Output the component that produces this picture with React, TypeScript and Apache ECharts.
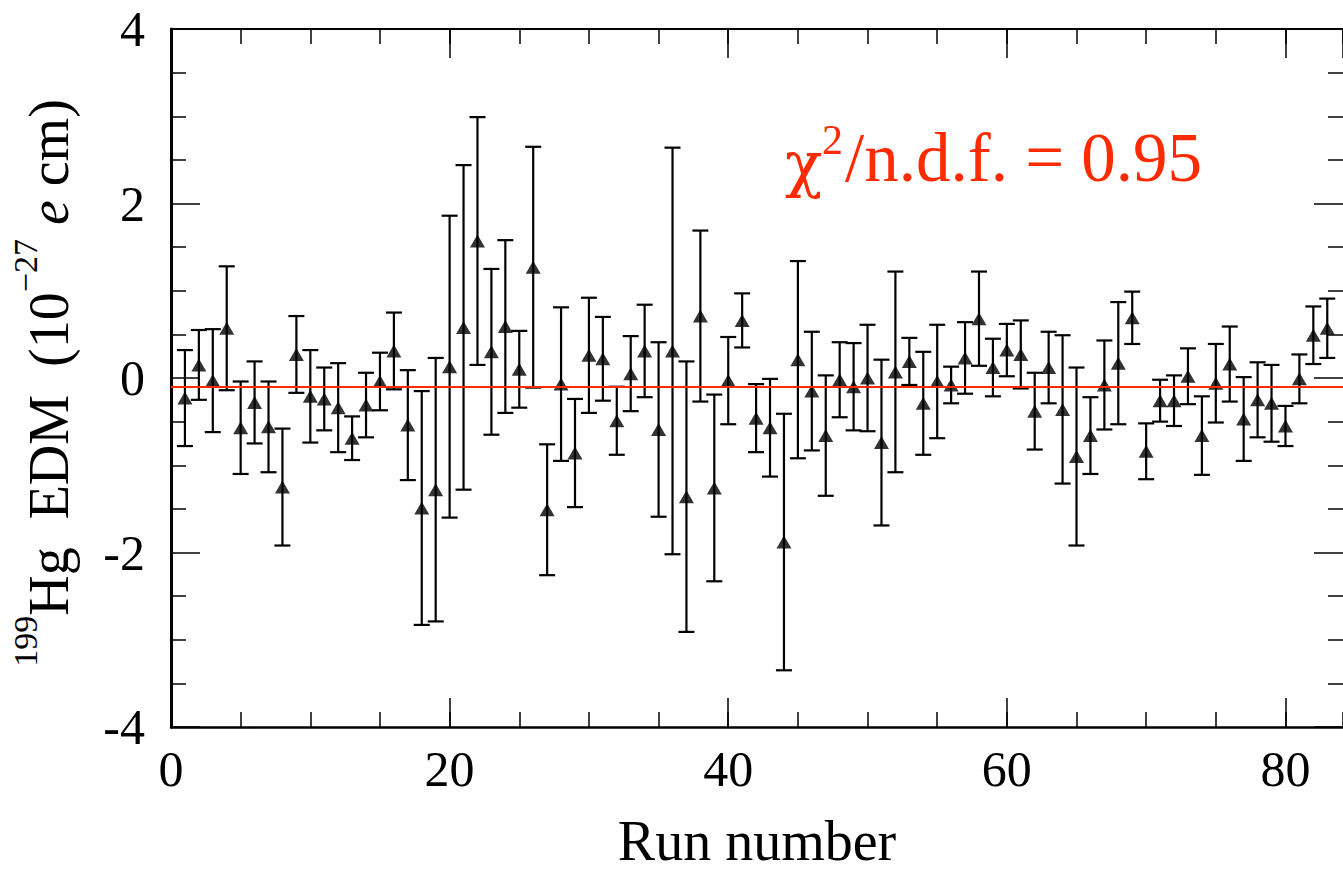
import React, { useEffect, useRef } from "react";
import * as echarts from "echarts";

// Run numbers
const runs: number[] = [
  1, 2, 3, 4, 5, 6, 7, 8, 9, 10, 11, 12, 13, 14, 15, 16, 17, 18, 19, 20,
  21, 22, 23, 24, 25, 26, 27, 28, 29, 30, 31, 32, 33, 34, 35, 36, 37, 38, 39, 40,
  41, 42, 43, 44, 45, 46, 47, 48, 49, 50, 51, 52, 53, 54, 55, 56, 57, 58, 59, 60,
  61, 62, 63, 64, 65, 66, 67, 68, 69, 70, 71, 72, 73, 74, 75, 76, 77, 78, 79, 80,
  81, 82, 83,
];

// 199Hg EDM per run (10^-27 e cm)
const edm: number[] = [
  -0.23, 0.15, -0.03, 0.57, -0.57, -0.28, -0.56, -1.25, 0.27, -0.21,
  -0.24, -0.34, -0.69, -0.31, -0.04, 0.31, -0.54, -1.49, -1.28, 0.13,
  0.58, 1.57, 0.3, 0.59, 0.1, 1.27, -1.51, -0.07, -0.86, 0.26,
  0.22, -0.49, 0.05, 0.31, -0.59, 0.31, -1.36, 0.71, -1.26, -0.03,
  0.66, -0.46, -0.57, -1.88, 0.21, -0.15, -0.66, -0.02, -0.1, 0.0,
  -0.74, 0.07, 0.19, -0.29, -0.04, -0.08, 0.23, 0.68, 0.12, 0.32,
  0.27, -0.38, 0.12, -0.36, -0.9, -0.66, -0.08, 0.17, 0.69, -0.84,
  -0.26, -0.26, 0.02, -0.66, -0.06, 0.16, -0.47, -0.25, -0.29, -0.55,
  -0.01, 0.49, 0.57,
];

// 1-sigma errors
const err: number[] = [
  0.55, 0.4, 0.59, 0.71, 0.53, 0.47, 0.52, 0.67, 0.44, 0.53,
  0.36, 0.51, 0.25, 0.37, 0.33, 0.44, 0.63, 1.34, 1.51, 1.73,
  1.86, 1.42, 0.95, 0.99, 0.44, 1.38, 0.75, 0.88, 0.62, 0.66,
  0.48, 0.39, 0.43, 0.53, 1.0, 2.33, 1.55, 0.98, 1.07, 0.5,
  0.31, 0.39, 0.56, 1.47, 1.13, 0.68, 0.69, 0.43, 0.5, 0.61,
  0.95, 1.15, 0.27, 0.59, 0.65, 0.21, 0.41, 0.54, 0.33, 0.3,
  0.39, 0.44, 0.41, 0.85, 1.02, 0.44, 0.51, 0.7, 0.3, 0.32,
  0.24, 0.29, 0.32, 0.45, 0.45, 0.43, 0.48, 0.43, 0.44, 0.23,
  0.28, 0.33, 0.34,
];

const fitMean = -0.1;
const chiText = "0.95";

const xMax = 84.13;
const xTickMajor = 20;
const xTickMinor = 5;
const yTickMajor = 2;

const FONT = "Liberation Serif";
const GREEK = "DejaVu Serif";
const RED = "#ff2a00";

export default function App() {
  const ref = useRef<HTMLDivElement>(null);

  useEffect(() => {
    if (!ref.current) return;
    const chart = echarts.init(ref.current, null, { renderer: "svg" });

    const errData = runs.map((r, i) => [r, edm[i] - err[i], edm[i] + err[i]]);
    const ptData = runs.map((r, i) => [r, edm[i]]);

    const baseX = {
      type: "value",
      min: 0,
      max: xMax,
      splitLine: { show: false },
    };
    const tickStyle = { color: "#000", width: 1.5 };

    const option: any = {
      animation: false,
      backgroundColor: "#fff",
      textStyle: { fontFamily: FONT },
      grid: { left: 171, top: 29, right: 0, bottom: 136, containLabel: false },
      xAxis: [
        {
          ...baseX,
          position: "bottom",
          interval: xTickMajor,
          axisLine: { show: true, onZero: false, lineStyle: { color: "#000", width: 2.5 } },
          axisTick: { show: true, inside: true, length: 29, lineStyle: tickStyle },
          axisLabel: {
            show: true,
            showMaxLabel: false,
            fontSize: 50,
            fontFamily: FONT,
            color: "#000",
            margin: 17,
          },
          name: "Run number",
          nameLocation: "middle",
          nameGap: 86,
          nameTextStyle: { fontSize: 56, fontFamily: FONT, color: "#000" },
        },
        {
          ...baseX,
          position: "bottom",
          interval: xTickMinor,
          axisLine: { show: false, onZero: false },
          axisTick: { show: true, inside: true, length: 15, lineStyle: tickStyle },
          axisLabel: { show: false },
        },
        {
          ...baseX,
          position: "top",
          interval: xTickMajor,
          axisLine: { show: true, onZero: false, lineStyle: { color: "#000", width: 2 } },
          axisTick: { show: true, inside: true, length: 29, lineStyle: tickStyle },
          axisLabel: { show: false },
        },
        {
          ...baseX,
          position: "top",
          interval: xTickMinor,
          axisLine: { show: false, onZero: false },
          axisTick: { show: true, inside: true, length: 15, lineStyle: tickStyle },
          axisLabel: { show: false },
        },
      ],
      yAxis: [
        {
          type: "value",
          position: "left",
          min: -4,
          max: 4,
          interval: yTickMajor,
          splitLine: { show: false },
          axisLine: { show: true, onZero: false, lineStyle: { color: "#000", width: 3 } },
          axisTick: { show: true, inside: true, length: 29, lineStyle: tickStyle },
          minorTick: { show: true, splitNumber: 4, length: 15, lineStyle: tickStyle },
          minorSplitLine: { show: false },
          axisLabel: {
            fontSize: 50,
            fontFamily: FONT,
            color: "#000",
            margin: 26,
            formatter: (v: number) => String(v),
          },
        },
        {
          type: "value",
          position: "right",
          min: -4,
          max: 4,
          interval: yTickMajor,
          splitLine: { show: false },
          axisLine: { show: false, onZero: false },
          axisTick: { show: true, inside: true, length: 29, lineStyle: tickStyle },
          minorTick: { show: true, splitNumber: 4, length: 15, lineStyle: tickStyle },
          minorSplitLine: { show: false },
          axisLabel: { show: false },
        },
      ],
      series: [
        {
          type: "custom",
          name: "errors",
          xAxisIndex: 0,
          yAxisIndex: 0,
          data: errData,
          encode: { x: 0, y: [1, 2] },
          z: 2,
          renderItem: (params: any, api: any) => {
            const x = api.value(0);
            const lo = api.coord([x, api.value(1)]);
            const hi = api.coord([x, api.value(2)]);
            const hw = 8;
            const st = { stroke: "#000", lineWidth: 2.2 };
            return {
              type: "group",
              children: [
                { type: "line", shape: { x1: lo[0], y1: lo[1], x2: hi[0], y2: hi[1] }, style: st },
                { type: "line", shape: { x1: lo[0] - hw, y1: lo[1], x2: lo[0] + hw, y2: lo[1] }, style: st },
                { type: "line", shape: { x1: hi[0] - hw, y1: hi[1], x2: hi[0] + hw, y2: hi[1] }, style: st },
              ],
            };
          },
          markLine: {
            silent: true,
            symbol: ["none", "none"],
            label: { show: false },
            lineStyle: { color: RED, width: 2, type: "solid" },
            data: [{ yAxis: fitMean }],
          },
        },
        {
          type: "scatter",
          name: "EDM",
          xAxisIndex: 0,
          yAxisIndex: 0,
          data: ptData,
          symbol: "triangle",
          symbolSize: [15, 13],
          itemStyle: { color: "#000" },
          z: 3,
        },
      ],
      graphic: [
        {
          type: "text",
          x: 785,
          y: 163,
          style: {
            text: "χ",
            align: "left",
            verticalAlign: "middle",
            fill: RED,
            fontFamily: GREEK,
            fontSize: 62,
          },
        },
        {
          type: "text",
          x: 822,
          y: 140,
          style: {
            text: "2",
            align: "left",
            verticalAlign: "middle",
            fill: RED,
            fontFamily: FONT,
            fontSize: 42,
          },
        },
        {
          type: "text",
          x: 845,
          y: 158,
          style: {
            text: "/n.d.f. = " + chiText,
            align: "left",
            verticalAlign: "middle",
            fill: RED,
            fontFamily: FONT,
            fontSize: 69,
          },
        },
        {
          type: "text",
          x: 49,
          y: 383,
          rotation: Math.PI / 2,
          style: {
            text:
              "{s|199}{m|Hg\u00a0\u00a0EDM\u00a0\u00a0(10}{s|\u221227}{m|\u00a0}{i|e}{m|\u00a0cm)}",
            align: "center",
            verticalAlign: "middle",
            fill: "#000",
            fontFamily: FONT,
            fontSize: 56,
            rich: {
              m: { fontSize: 56, fontFamily: FONT, fill: "#000", lineHeight: 56 },
              i: { fontSize: 56, fontFamily: FONT, fontStyle: "italic", fill: "#000", lineHeight: 56 },
              s: { fontSize: 34, fontFamily: FONT, fill: "#000", lineHeight: 34, padding: [0, 0, 48, 0] },
            },
          },
        },
      ],
    };

    chart.setOption(option);
    return () => chart.dispose();
  }, []);

  return (
    <div
      ref={ref}
      style={{ position: "absolute", left: 0, top: 0, width: 1343, height: 874, background: "#fff" }}
    />
  );
}
